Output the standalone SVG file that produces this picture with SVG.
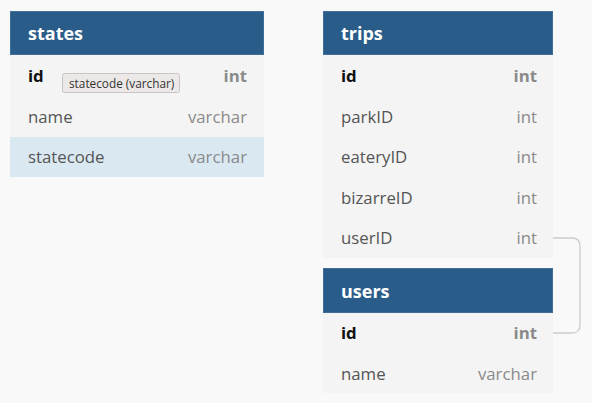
<svg xmlns="http://www.w3.org/2000/svg" width="592" height="403" viewBox="0 0 592 403">
<style>
.hdr{fill:#2a5c89;stroke:#3f6e98;stroke-width:1}
.row{fill:#f4f4f4}
.sel{fill:#d9e8f1}
.title{font-family:"Open Sans",sans-serif;font-weight:bold;font-size:18px;fill:#ffffff}
.f{font-family:"Open Sans",sans-serif;font-size:16.8px;fill:#555555}
.t{font-family:"Open Sans",sans-serif;font-size:16.8px;fill:#8a8a8a;text-anchor:end}
.pk{font-family:"Open Sans",sans-serif;font-size:16.8px;font-weight:bold;fill:#111111}
.pkt{font-family:"Open Sans",sans-serif;font-size:16.8px;font-weight:bold;fill:#8a8a8a;text-anchor:end}
.tip{fill:#ece8e7;stroke:#c9c5c4;stroke-width:1}
.tipt{font-family:"Open Sans",sans-serif;font-size:11.8px;fill:#333333}
.conn{fill:none;stroke:#cccccc;stroke-width:1.3}
</style>
<rect width="592" height="403" fill="#f9f9f9"/>
<g id="connectors">
<path class="conn" d="M553,238 H572 Q580,238 580,246 V325 Q580,333 572,333 H553"/>
</g>
<g id="states">
<rect class="row" x="10" y="55" width="254" height="82"/>
<rect class="sel" x="10" y="137" width="254" height="40"/>
<rect class="hdr" x="10.5" y="11.5" width="253" height="43"/>
<text class="title" x="28" y="40">states</text>
<text class="pk" x="28" y="82">id</text>
<text class="pkt" x="247" y="82">int</text>
<text class="f" x="28" y="123">name</text>
<text class="t" x="247" y="123">varchar</text>
<text class="f" x="28" y="163">statecode</text>
<text class="t" x="247" y="163">varchar</text>
</g>
<g id="tooltip">
<rect class="tip" x="62.5" y="73.5" width="117" height="19" rx="2"/>
<text class="tipt" x="69" y="87.5">statecode (varchar)</text>
</g>
<g id="trips">
<rect class="row" x="323" y="55" width="230" height="203"/>
<rect class="hdr" x="323.5" y="11.5" width="229" height="43"/>
<text class="title" x="341" y="40">trips</text>
<text class="pk" x="341" y="82">id</text>
<text class="pkt" x="537" y="82">int</text>
<text class="f" x="341" y="123">parkID</text>
<text class="t" x="537" y="123">int</text>
<text class="f" x="341" y="163">eateryID</text>
<text class="t" x="537" y="163">int</text>
<text class="f" x="341" y="204">bizarreID</text>
<text class="t" x="537" y="204">int</text>
<text class="f" x="341" y="244">userID</text>
<text class="t" x="537" y="244">int</text>
</g>
<g id="users">
<rect class="row" x="323" y="313" width="230" height="80"/>
<rect class="hdr" x="323.5" y="268.5" width="229" height="44"/>
<text class="title" x="341" y="298">users</text>
<text class="pk" x="341" y="339">id</text>
<text class="pkt" x="537" y="339">int</text>
<text class="f" x="341" y="380">name</text>
<text class="t" x="537" y="380">varchar</text>
</g>
</svg>
